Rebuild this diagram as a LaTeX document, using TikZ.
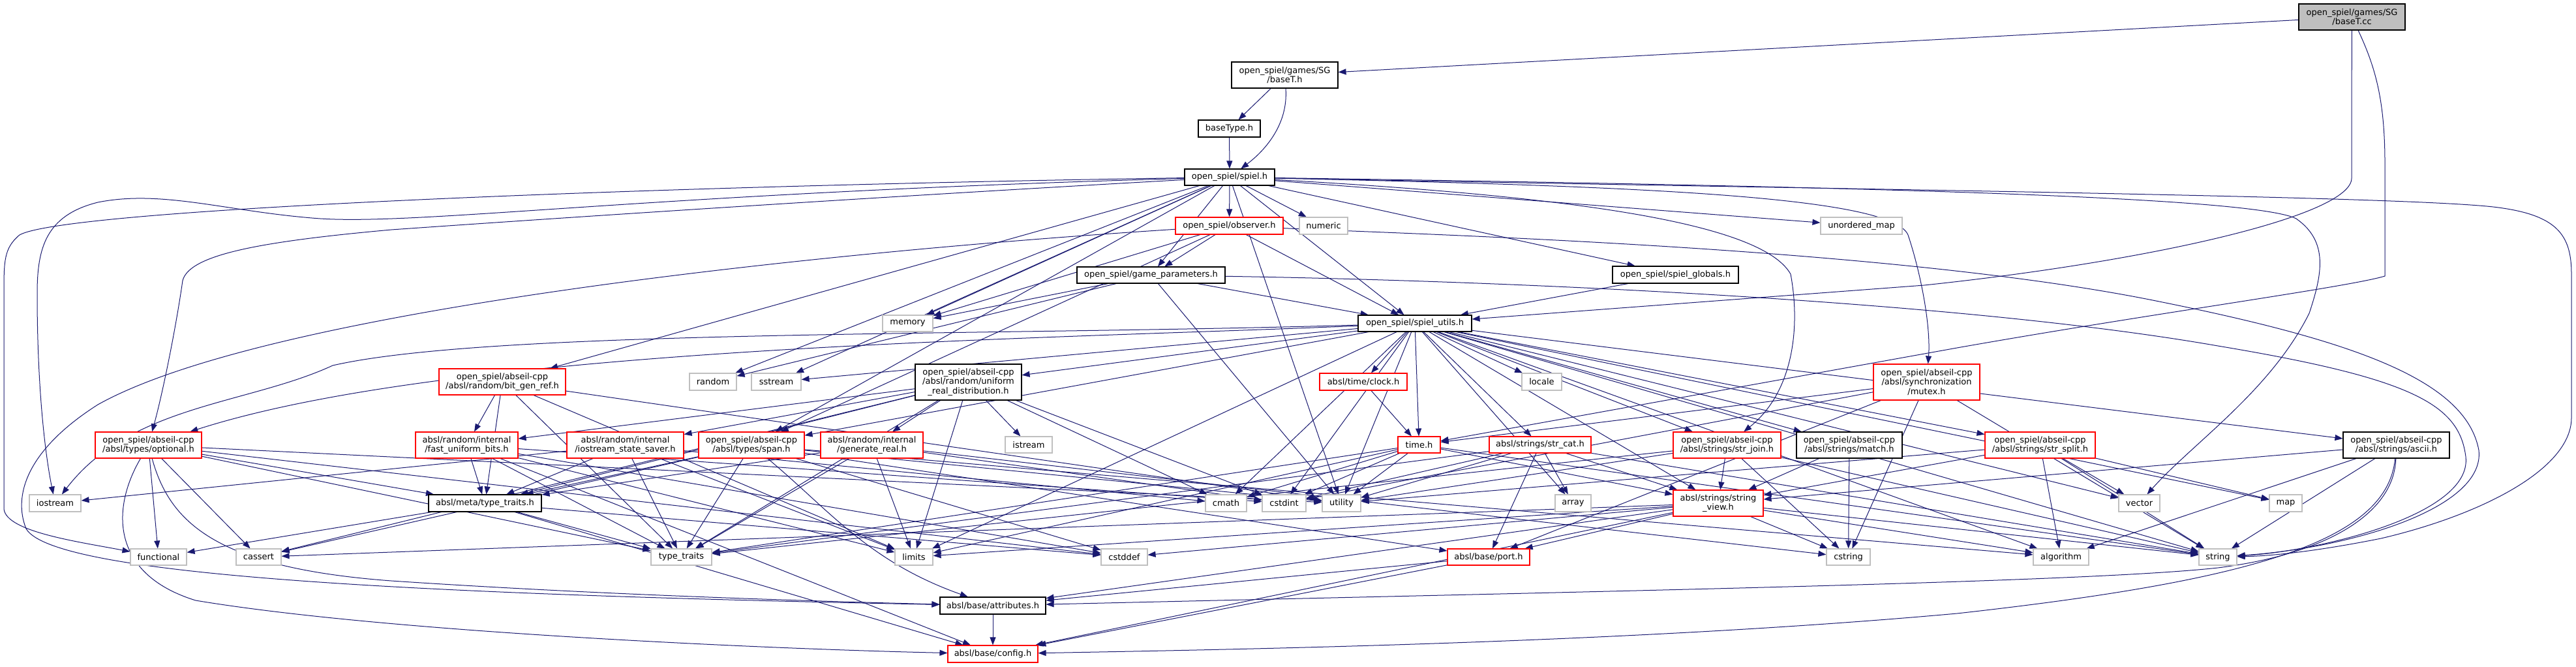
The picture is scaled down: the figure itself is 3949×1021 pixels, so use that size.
\documentclass[tikz,border=0pt]{standalone}
\usepackage{fontspec}
\setmainfont{DejaVu Sans}
\usetikzlibrary{arrows.meta}
\definecolor{edgec}{HTML}{191970}
\definecolor{redb}{HTML}{FF0000}
\definecolor{grayb}{HTML}{BFBFBF}
\definecolor{ccfill}{HTML}{BFBFBF}
\pgfdeclarelayer{bg}
\pgfsetlayers{bg,main}
\newcommand\mknode[7]{\node[#2, minimum width=#5pt, minimum height=#6pt] (#1) at (#3,-#4) {#7};}
\begin{document}
\begin{tikzpicture}[x=1pt,y=1pt,
  box/.style={fill=white, line width=1.1pt, inner sep=0pt, align=center, font=\fontsize{13}{14.5}\selectfont},
  nb/.style={box, draw=black},
  nr/.style={box, draw=redb},
  ng/.style={box, draw=grayb},
  ncc/.style={box, draw=black, fill=ccfill},
  e/.style={draw=edgec, line width=1pt, -{Triangle[length=12pt,width=9pt]}},
]
\useasboundingbox (0,0) rectangle (3949,-1021);
\mknode{cc}{ncc}{3605.5}{26}{163}{40}{open\_spiel/games/SG\\/baseT.cc}
\mknode{bth}{nb}{1969.5}{115}{163}{40}{open\_spiel/games/SG\\/baseT.h}
\mknode{btype}{nb}{1884.5}{197}{95}{26}{baseType.h}
\mknode{spiel}{nb}{1885}{271.5}{138}{25}{open\_spiel/spiel.h}
\mknode{obs}{nr}{1884.5}{346}{165}{26}{open\_spiel/observer.h}
\mknode{numeric}{ng}{2029}{346}{74}{26}{numeric}
\mknode{umap}{ng}{2853.5}{346}{125}{26}{unordered\_map}
\mknode{gp}{nb}{1764.5}{421.5}{227}{25}{open\_spiel/game\_parameters.h}
\mknode{glob}{nb}{2568.5}{421}{193}{26}{open\_spiel/spiel\_globals.h}
\mknode{memory}{ng}{1391.5}{495.5}{77}{25}{memory}
\mknode{utils}{nb}{2169}{495.5}{174}{25}{open\_spiel/spiel\_utils.h}
\mknode{bgr}{nr}{770}{585}{194}{40}{open\_spiel/abseil-cpp\\/absl/random/bit\_gen\_ref.h}
\mknode{random}{ng}{1093}{585}{72}{26}{random}
\mknode{sstream}{ng}{1190}{585}{76}{26}{sstream}
\mknode{urd}{nb}{1484.5}{585.5}{163}{55}{open\_spiel/abseil-cpp\\/absl/random/uniform\\\_real\_distribution.h}
\mknode{clock}{nr}{2090}{585}{134}{26}{absl/time/clock.h}
\mknode{locale}{ng}{2363.5}{585}{61}{26}{locale}
\mknode{mutex}{nr}{2953.5}{585.5}{163}{55}{open\_spiel/abseil-cpp\\/absl/synchronization\\/mutex.h}
\mknode{opt}{nr}{227.5}{682}{163}{40}{open\_spiel/abseil-cpp\\/absl/types/optional.h}
\mknode{fub}{nr}{715.5}{682}{157}{40}{absl/random/internal\\/fast\_uniform\_bits.h}
\mknode{iss}{nr}{958.5}{682}{179}{40}{absl/random/internal\\/iostream\_state\_saver.h}
\mknode{span}{nr}{1152}{682}{162}{40}{open\_spiel/abseil-cpp\\/absl/types/span.h}
\mknode{gen}{nr}{1336.5}{682}{157}{40}{absl/random/internal\\/generate\_real.h}
\mknode{istream}{ng}{1577}{681.5}{72}{25}{istream}
\mknode{time}{nr}{2175.5}{681.5}{65}{25}{time.h}
\mknode{strcat}{nr}{2361}{681.5}{156}{25}{absl/strings/str\_cat.h}
\mknode{strjoin}{nr}{2647.5}{682}{165}{40}{open\_spiel/abseil-cpp\\/absl/strings/str\_join.h}
\mknode{match}{nb}{2835}{682}{162}{40}{open\_spiel/abseil-cpp\\/absl/strings/match.h}
\mknode{split}{nr}{3127.5}{682}{169}{40}{open\_spiel/abseil-cpp\\/absl/strings/str\_split.h}
\mknode{ascii}{nb}{3673.5}{682}{163}{40}{open\_spiel/abseil-cpp\\/absl/strings/ascii.h}
\mknode{iostream}{ng}{84.5}{771}{79}{26}{iostream}
\mknode{tt}{nb}{743.5}{771}{173}{26}{absl/meta/type\_traits.h}
\mknode{cmath}{ng}{1879.5}{771}{63}{26}{cmath}
\mknode{cstdint}{ng}{1968.5}{771}{67}{26}{cstdint}
\mknode{utility}{ng}{2056.5}{771}{59}{26}{utility}
\mknode{array}{ng}{2411.5}{771}{55}{26}{array}
\mknode{sv}{nr}{2634}{771}{138}{40}{absl/strings/string\\\_view.h}
\mknode{vector}{ng}{3279.5}{771}{63}{26}{vector}
\mknode{map}{ng}{3504}{771}{50}{26}{map}
\mknode{functional}{ng}{243}{853.5}{86}{25}{functional}
\mknode{cassert}{ng}{396.5}{853.5}{69}{25}{cassert}
\mknode{typetraits}{ng}{1044.5}{853.5}{93}{25}{type\_traits}
\mknode{limits}{ng}{1401}{853.5}{58}{25}{limits}
\mknode{cstddef}{ng}{1723.5}{853.5}{71}{25}{cstddef}
\mknode{port}{nr}{2282}{853.5}{126}{25}{absl/base/port.h}
\mknode{cstring}{ng}{2833.5}{853.5}{67}{25}{cstring}
\mknode{algorithm}{ng}{3159.5}{853.5}{85}{25}{algorithm}
\mknode{string}{ng}{3400}{853.5}{58}{25}{string}
\mknode{attr}{nb}{1522}{928}{162}{26}{absl/base/attributes.h}
\mknode{config}{nr}{1522}{1002}{138}{26}{absl/base/config.h}

\begin{pgfonlayer}{bg}
\foreach \s/\t in {cc/bth, bth/btype, btype/spiel,
  spiel/obs, spiel/numeric, spiel/gp, spiel/utils, spiel/umap, spiel/glob, spiel/memory,
  spiel/random, spiel/sstream, spiel/span, spiel/bgr, spiel/utility,
  obs/gp, obs/memory, obs/utils, obs/span,
  gp/memory, gp/utils, gp/utility, gp/random,
  glob/utils,
  utils/sstream, utils/urd, utils/clock, utils/locale, utils/time, utils/strcat, utils/strjoin,
  utils/match, utils/split, utils/ascii, utils/sv, utils/span, utils/cmath, utils/cstdint,
  utils/utility, utils/array, utils/vector, utils/map, utils/string, utils/algorithm, utils/limits,
  clock/time,
  mutex/time, mutex/cstdint, mutex/cstring, mutex/string, mutex/port,
  bgr/fub, bgr/tt, bgr/limits, bgr/typetraits, bgr/utility,
  fub/tt, fub/cstddef, fub/cstdint, fub/limits, fub/typetraits, fub/config,
  iss/tt, iss/cmath, iss/iostream, iss/limits, iss/typetraits,
  span/tt, span/algorithm, span/cassert, span/cstddef, span/typetraits, span/utility, span/port,
  gen/tt, gen/cstdint, gen/cstring, gen/limits, gen/typetraits,
  urd/tt, urd/fub, urd/gen, urd/iss, urd/cassert, urd/cmath, urd/cstdint, urd/istream, urd/limits, urd/typetraits,
  opt/tt, opt/functional, opt/cassert, opt/typetraits, opt/utility, opt/cstddef,
  tt/cstddef, tt/functional, tt/typetraits, tt/config,
  time/cmath, time/cstdint, time/limits, time/string, time/typetraits, time/utility, time/sv,
  strcat/array, strcat/cstdint, strcat/string, strcat/typetraits, strcat/utility, strcat/port, strcat/sv,
  strjoin/cstring, strjoin/string, strjoin/typetraits, strjoin/utility, strjoin/sv,
  match/cstring, match/sv,
  split/algorithm, split/map, split/string, split/utility, split/vector, split/sv,
  ascii/algorithm, ascii/string, ascii/sv,
  sv/algorithm, sv/cassert, sv/cstddef, sv/cstring, sv/limits, sv/string, sv/attr, sv/config, sv/port,
  port/attr, port/config, attr/config}
  \draw[e] (\s) -- (\t);
% routed edges
\draw[e] (bth) .. controls (1975,-190) and (1940,-230) .. (spiel);
\draw[e] (cc) .. controls (3605,-150) and (3605,-220) .. (3605,-273) .. controls (3605,-330) and (3300,-400) .. (2950,-437) -- (utils);
\draw[e] (cc) .. controls (3640,-100) and (3656,-150) .. (3656,-250) -- (3656,-423) .. controls (3600,-440) and (3300,-480) .. (3000,-533) -- (time);
\draw[e] (spiel) .. controls (1000,-285) and (100,-320) .. (30,-360) .. controls (6,-380) and (6,-400) .. (6,-450) -- (6,-780) .. controls (10,-815) and (120,-830) .. (functional);
\draw[e] (spiel) .. controls (1000,-296) and (650,-345) .. (491,-335) .. controls (350,-325) and (250,-290) .. (150,-310) .. controls (70,-330) and (57,-380) .. (57,-450) .. controls (57,-600) and (70,-700) .. (iostream);
\draw[e] (spiel) .. controls (1200,-310) and (700,-345) .. (600,-352) .. controls (400,-370) and (290,-390) .. (280,-430) .. controls (270,-500) and (250,-600) .. (opt);
\draw[e] (spiel) .. controls (2500,-285) and (2900,-300) .. (2925,-360) .. controls (2945,-420) and (2960,-500) .. (mutex);
\draw[e] (spiel) .. controls (2800,-285) and (3450,-300) .. (3520,-335) .. controls (3570,-370) and (3560,-420) .. (3540,-480) .. controls (3480,-600) and (3360,-680) .. (vector);
\draw[e] (spiel) .. controls (2800,-290) and (3700,-300) .. (3830,-318) .. controls (3920,-330) and (3942,-360) .. (3942,-420) -- (3942,-640) .. controls (3942,-720) and (3800,-790) .. (3650,-825) .. controls (3550,-845) and (3480,-852) .. (string);
\draw[e] (spiel) .. controls (2400,-300) and (2700,-340) .. (2745,-420) .. controls (2760,-500) and (2750,-600) .. (strjoin);
\draw[e] (obs) .. controls (2200,-360) and (2900,-380) .. (3300,-460) .. controls (3600,-520) and (3780,-580) .. (3800,-690) .. controls (3810,-780) and (3600,-840) .. (string);
\draw[e] (gp) .. controls (2300,-430) and (3000,-460) .. (3400,-530) .. controls (3700,-580) and (3770,-620) .. (3780,-700) .. controls (3790,-790) and (3550,-845) .. (string);
\draw[e] (obs) .. controls (1200,-390) and (400,-480) .. (150,-620) .. controls (40,-690) and (20,-760) .. (40,-810) .. controls (80,-880) and (600,-910) .. (attr);
\draw[e] (opt) .. controls (260,-800) and (330,-870) .. (600,-890) .. controls (900,-910) and (1200,-920) .. (attr);
\draw[e] (opt) .. controls (170,-780) and (170,-880) .. (300,-920) .. controls (600,-970) and (1200,-995) .. (config);
\draw[e] (span) .. controls (1270,-780) and (1330,-860) .. (attr);
\draw[e] (ascii) .. controls (3670,-790) and (3560,-850) .. (3400,-870) .. controls (3200,-892) and (2500,-905) .. (attr);
\draw[e] (ascii) .. controls (3660,-830) and (3450,-890) .. (3000,-940) .. controls (2500,-985) and (1900,-995) .. (config);
\draw[e] (utils) .. controls (1600,-520) and (700,-530) .. (opt);
\draw[e] (utils) .. controls (1500,-515) and (750,-505) .. (510,-560) .. controls (380,-620) and (200,-620) .. (iostream);
\end{pgfonlayer}
\end{tikzpicture}
\end{document}
